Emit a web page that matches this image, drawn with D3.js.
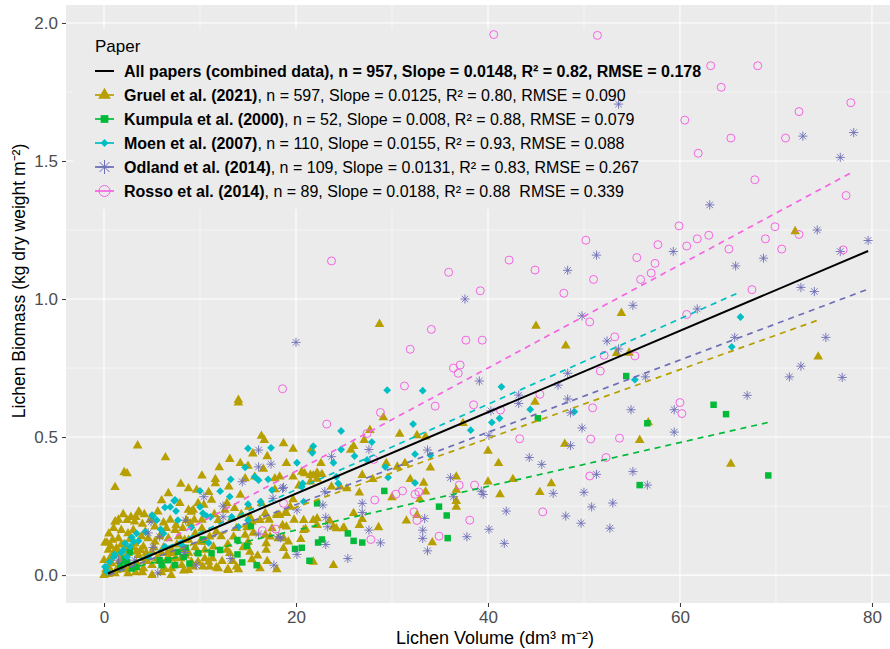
<!DOCTYPE html>
<html><head><meta charset="utf-8">
<script src="https://cdn.jsdelivr.net/npm/d3@7"></script>
<style>body{margin:0;background:#fff} text{font-family:"Liberation Sans",Arial,sans-serif}</style>
</head><body><svg id="c" width="890" height="649"></svg>
<script>
// ---------- data ----------
const gruel = [
[72.0,1.245],[53.9,0.949],[48.1,0.831],[53.4,0.804],[54.7,0.805],[74.4,0.791],[56.7,0.553],[55.8,0.489],[48.0,0.475],[65.3,0.403],
[28.7,0.909],[45.0,0.902],[29.1,0.571],[27.7,0.525],[27.1,0.489],[26.0,0.467],[25.7,0.453],[18.7,0.477],[19.7,0.457],[21.6,0.455],[19.0,0.405],[22.6,0.405],[30.8,0.511],[32.6,0.506],[33.5,0.501],[37.4,0.55],[44.9,0.627],[40.0,0.450],[41.1,0.405],[42.6,0.347],[46.6,0.332],[45.4,0.300],[41.25,0.292],[40.0,0.338],[36.7,0.356],[36.7,0.308],[36.7,0.268],[36.7,0.247],[34.0,0.389],[33.3,0.334],[33.5,0.302],[32.9,0.275],[32.6,0.217],[31.5,0.197],[34.2,0.118],[31.9,0.347],[31.35,0.405],[30.55,0.392],[30.0,0.281],[29.4,0.405],[28.0,0.347],[26.9,0.362],[26.6,0.298],[26.0,0.224],[26.9,0.202],[26.6,0.181],[28.6,0.173],[25.3,0.314],[24.6,0.320],[23.7,0.320],[22.7,0.365],[21.8,0.361],[20.9,0.368],[22.2,0.348],[20.3,0.324],[19.7,0.274],[19.0,0.224],[20.8,0.199],[22.2,0.205],[23.5,0.197],[24.2,0.169],[25.0,0.171],[20.8,0.163],[19.0,0.175],[18.7,0.133],[18.3,0.356],
[14.0,0.634],[14.0,0.624],[3.5,0.469],[6.4,0.426],[2.1,0.372],[2.4,0.368],[1.15,0.318],[16.4,0.504],[16.7,0.489],[11.6,0.347],[11.6,0.332],[8.8,0.314],[9.65,0.308],[6.7,0.296],[14.2,0.405],[15.0,0.395],[16.6,0.384],[15.7,0.356],[14.7,0.350],[17.8,0.350],[19.7,0.356],[21.5,0.362],[22.2,0.371],[21.5,0.338],[3.7,0.226],[1.15,0.193],[0.3,0.117],[9.1,0.229],[10.4,0.254],[11.2,0.272],[12.8,0.260],[13.6,0.242],[15.1,0.247],[14.2,0.290],[16.4,0.260],[16.8,0.224],[15.2,0.211],[16.25,0.199],[18.0,0.217],[21.8,0.199],[22.2,0.181],[23.9,0.175],[24.9,0.169],[17.3,0.139],[16.9,0.115],[14.7,0.145],[13.5,0.139],[12.8,0.091],[11.7,0.027],[12.9,0.021],[10.9,0.048],[8.3,0.016],[7.4,0.036],[6.5,0.054],[7.2,0.079],[15.4,0.057],[19.0,0.069],[21.8,0.048],[23.9,0.036],[21.0,0.167],
[20.6,0.374],[19.4,0.247],[18.9,0.226],[9.3,0.236],[12.6,0.236],[11.9,0.199],[13.3,0.205],[14.9,0.173],[15.55,0.153],[16.8,0.145],[17.5,0.169],[18.3,0.217],[15.4,0.193],[10.2,0.169],[9.5,0.151],[11.0,0.139],[11.7,0.157],[11.4,0.103],[12.9,0.112],[13.1,0.079],[16.9,0.091],[15.2,0.084],[18.7,0.097],[19.2,0.121],[18.15,0.133],[10.5,0.091],[9.8,0.048],[11.0,0.030],[12.95,0.018],[11.9,0.024],[16.25,0.024],[8.8,0.018],[8.8,0.127],[9.0,0.187],
[3.6,0.229],[1.2,0.193],[2.4,0.199],[3.2,0.193],[4.0,0.185],[8.6,0.199],[1.8,0.163],[2.5,0.151],[3.05,0.163],[4.3,0.157],[0.1,0.117],[0.9,0.127],[1.5,0.133],[2.1,0.112],[3.2,0.115],[4.1,0.103],[4.6,0.133],[5.3,0.121],[0.45,0.091],[1.3,0.097],[2.5,0.079],[3.6,0.072],[5.0,0.084],[6.0,0.079],[7.05,0.091],[8.1,0.091],[0.0,0.054],[0.8,0.042],[1.8,0.030],[3.4,0.042],[4.1,0.024],[5.0,0.036],[6.35,0.021],[7.05,0.024],[8.1,0.036],[9.1,0.048],[0.0,0.0],[0.45,0.003],[1.15,0.006],[2.5,0.006],[5.0,0.0],[6.7,0.133],[7.4,0.163],[8.4,0.127],[8.8,0.236],[5.3,0.175],[0.45,0.030],[1.3,0.018],[2.0,0.060],[4.3,0.060],
[0.2,0.02],[0.6,0.06],[1.0,0.08],[1.6,0.05],[2.2,0.02],[2.8,0.03],[3.0,0.10],[3.8,0.09],[4.5,0.05],[5.5,0.06],[6.2,0.10],[6.8,0.06],[7.6,0.11],[8.5,0.07],[9.5,0.10],[10.0,0.12],[3.3,0.01],[4.0,0.01],[6.0,0.01],[7.0,0.0],[0.8,0.01],[1.8,0.11],[2.7,0.13],[3.9,0.14],[5.8,0.14],[6.5,0.17],[7.8,0.14],[9.8,0.08],[10.5,0.06],[13.8,0.03],[14.5,0.10],[10.2,0.20],
[0.5,0.15],[1.0,0.17],[1.5,0.20],[2.0,0.22],[2.8,0.21],[3.3,0.21],[4.2,0.22],[4.8,0.20],[5.6,0.23],[6.2,0.19],[6.9,0.20],[7.5,0.18],[8.2,0.17],[9.4,0.20],[0.7,0.105],[1.4,0.075],[2.3,0.09],[3.4,0.085],[4.4,0.08],[5.2,0.10],[5.8,0.05],[6.6,0.08],[7.4,0.06],[8.0,0.06],[8.8,0.08],[9.3,0.03],[10.3,0.03],[11.3,0.06],[12.3,0.05],[13.4,0.05],[14.0,0.02],[15.0,0.12],[16.0,0.07],[17.0,0.05],[18.0,0.02],[10.6,0.12],[11.5,0.22],[12.2,0.14],[13.8,0.17],[14.3,0.22],[17.2,0.20],[18.6,0.18],[19.8,0.20],[20.5,0.13],[17.8,0.31],[13.0,0.32],[10.9,0.30],[9.8,0.26],[7.9,0.26],[6.0,0.27],[12.0,0.39],[13.1,0.42],[15.5,0.44],[17.0,0.43],[8.0,0.33],[10.2,0.36]
];
const kumpula = [
[54.4,0.721],[63.5,0.617],[64.8,0.583],[56.6,0.550],[55.8,0.326],[69.2,0.361],
[29.2,0.305],[34.9,0.248],[35.7,0.216],[35.8,0.134],[22.2,0.26],[25.4,0.151],[26.0,0.124],[26.9,0.118],[22.7,0.129],[22.3,0.118],[20.6,0.099],[19.9,0.095],[21.4,0.052],[45.2,0.568],
[15.3,0.178],[13.9,0.127],[14.9,0.106],[13.9,0.075],[14.4,0.046],[15.9,0.036],[12.1,0.091],[11.2,0.079],[9.8,0.079],[8.9,0.042],[10.3,0.129],[8.5,0.099],[7.7,0.084],[5.8,0.054],[6.0,0.036],[3.4,0.03],[2.4,0.048],[2.7,0.084],
[6.7,0.054],[8.3,0.066],[2.2,0.057],[1.7,0.036],[2.9,0.024],[7.4,0.036]
];
const moen = [
[66.3,0.935],[65.4,0.827],[55.3,0.708],[49.0,0.592],
[29.5,0.670],[33.2,0.668],[41.4,0.682],[24.7,0.522],[32.2,0.547],[38.2,0.525],[40.4,0.553],[41.2,0.568],[44.4,0.600],[21.8,0.467],[21.7,0.443],[24.7,0.455],[27.9,0.482],[23.9,0.407],[20.1,0.407],[26.1,0.431],[27.4,0.417],[32.4,0.438],[34.0,0.434],[29.3,0.392],[29.6,0.354],[24.2,0.356],[24.4,0.332],[32.4,0.334],[20.8,0.266],[20.7,0.332],
[15.0,0.459],[17.4,0.461],[14.7,0.390],[13.2,0.347],[15.7,0.356],[16.1,0.344],[17.1,0.347],[12.1,0.304],[10.0,0.305],[13.1,0.284],[15.0,0.257],[16.3,0.266],[20.6,0.320],[17.5,0.308],[10.3,0.224],[10.7,0.214],[11.1,0.211],[10.0,0.247],[13.3,0.211],[14.0,0.175],[15.0,0.199],[9.1,0.173],[10.9,0.117],
[7.4,0.272],[6.9,0.247],[6.35,0.245],[5.5,0.199],[5.0,0.217],[6.2,0.151],[3.4,0.151],[3.05,0.121],[4.3,0.157],[1.0,0.066],[0.6,0.048],[0.1,0.03],[0.3,0.012],[2.4,0.066],[2.0,0.091],[2.7,0.103],
[7.3,0.269],[7.5,0.232],[5.1,0.214],[5.9,0.166],[2.9,0.137],[3.6,0.124],[2.2,0.115],[1.8,0.081],[1.1,0.075],[0.2,0.03],[0.4,0.012],[4.6,0.066],[6.35,0.103],[7.7,0.199],[8.1,0.109]
];
const odland = [
[53.6,1.706],[72.8,1.590],[78.1,1.603],[76.7,1.513],[63.1,1.341],[74.3,1.250],[51.3,1.159],[48.3,1.104],[59.3,1.172],[65.8,1.120],[68.7,1.148],[76.7,1.172],[79.6,1.212],[72.6,1.042],[74.0,1.027],[55.1,0.977],[49.8,0.939],[61.8,0.964],[52.4,0.848],[53.6,0.819],[48.3,0.731],[56.4,0.718],[65.7,0.861],[75.2,0.861],[72.6,0.757],[71.4,0.718],[76.9,0.716],[48.3,0.638],[48.6,0.588],[67.0,0.651],[54.9,0.599],[59.4,0.599],[49.8,0.533],[59.4,0.518],[48.6,0.469],[51.3,0.365],[55.1,0.375],[56.6,0.326],[50.0,0.300],[50.8,0.247],[53.0,0.261],[48.1,0.214],[49.7,0.188],[52.7,0.170],
[20.0,0.843],[37.6,1.0],[39.1,0.703],[43.2,0.652],[43.2,0.622],[40.3,0.595],[47.3,0.688],[40.1,0.506],[33.7,0.453],[23.7,0.429],[27.6,0.455],[44.3,0.426],[45.6,0.401],[46.8,0.296],[39.3,0.304],[39.5,0.292],[36.1,0.353],[36.4,0.284],[41.9,0.232],[40.1,0.166],[37.8,0.139],[33.4,0.205],[33.2,0.163],[33.2,0.133],[33.7,0.088],[28.8,0.117],[27.6,0.163],[26.9,0.26],[26.9,0.227],[22.8,0.254],[25.4,0.06],[20.1,0.075],[23.1,0.111],[23.3,0.175],[18.7,0.318],[18.4,0.135],[41.7,0.115],
[16.1,0.453],[16.1,0.392],[17.4,0.402],[14.4,0.338],[18.6,0.314],[10.4,0.284],[8.5,0.199],[4.9,0.193],[12.4,0.211],[12.4,0.25],[20.1,0.236],[23.0,0.302],[23.1,0.209],[17.7,0.036],[13.2,0.06],[9.6,0.036],[5.6,0.008],[3.2,0.054],[4.6,0.153],[5.8,0.139],[8.4,0.082],[1.5,0.054],[16.1,0.149],[18.2,0.139],[17.6,0.278],[5.1,0.1]
];
const rosso = [
[40.6,1.958],[51.4,1.955],[63.2,1.845],[68.1,1.845],[64.3,1.767],[77.8,1.711],[72.4,1.679],[60.5,1.648],[65.3,1.583],[71.0,1.583],[61.9,1.528],[67.8,1.432],[77.3,1.375],[59.9,1.265],[50.2,1.213],[63.0,1.231],[61.8,1.218],[60.7,1.192],[57.7,1.197],[55.5,1.150],[57.4,1.129],[57.0,1.094],[69.9,1.262],[68.9,1.218],[65.1,1.181],[70.6,1.181],[72.4,1.234],[77.0,1.178],[51.0,1.071],[55.9,1.071],[47.9,1.021],[67.5,1.034],[50.6,0.917],[60.7,0.944],[53.2,0.863],[52.1,0.796],[55.3,0.794],[51.7,0.739],[50.9,0.606],[60.0,0.625],[60.2,0.585],[50.7,0.493],[53.7,0.496],[52.3,0.426],[50.6,0.359],
[23.7,1.138],[35.9,1.097],[42.2,1.141],[44.9,1.105],[39.2,1.030],[34.1,0.890],[31.9,0.818],[37.7,0.851],[39.4,0.851],[36.4,0.75],[37.1,0.761],[36.9,0.731],[18.6,0.675],[31.3,0.685],[34.5,0.612],[38.5,0.617],[28.8,0.589],[41.3,0.598],[23.2,0.547],[43.3,0.494],[45.4,0.655],[28.1,0.419],[27.4,0.513],[37.0,0.326],[38.6,0.326],[30.4,0.293],[31.1,0.305],[32.4,0.293],[32.8,0.301],[28.2,0.272],[18.7,0.26],[32.3,0.229],[32.6,0.198],[38.1,0.199],[45.7,0.229],[34.9,0.141],[27.8,0.129],[17.9,0.167],[16.5,0.161]
];
// fitted lines (read end points): all, gruel, kumpula, moen, odland, rosso
const fitNames = ["all","gruel","kumpula","moen","odland","rosso"];
const fitX0 = [0.4, 0.3, 1.5, 0.4, 0.5, 6.5];
const fitY0 = [0.006, 0.0, 0.016, 0.006, 0.0, 0.124];
const fitX1 = [79.6, 74.5, 69.3, 66.3, 79.6, 77.8];
const fitY1 = [1.174, 0.925, 0.554, 1.026, 1.036, 1.457];
const xTicks = [0, 20, 40, 60, 80];
const yTicks = [0, 0.5, 1.0, 1.5, 2.0];
const xMinor = [10, 30, 50, 70];
const yMinor = [0.25, 0.75, 1.25, 1.75];
const legendBold = ["All papers (combined data), n = 957, Slope = 0.0148, R\u00b2 = 0.82, RMSE = 0.178",
  "Gruel et al. (2021)","Kumpula et al. (2000)","Moen et al. (2007)","Odland et al. (2014)","Rosso et al. (2014)"];
const legendRest = ["",
  ", n = 597, Slope = 0.0125, R\u00b2 = 0.80, RMSE = 0.090",
  ", n = 52, Slope = 0.008, R\u00b2 = 0.88, RMSE = 0.079",
  ", n = 110, Slope = 0.0155, R\u00b2 = 0.93, RMSE = 0.088",
  ", n = 109, Slope = 0.0131, R\u00b2 = 0.83, RMSE = 0.267",
  ", n = 89, Slope = 0.0188, R\u00b2 = 0.88\u00a0 RMSE = 0.339"];

// ---------- styles ----------
const col = {all:"#000000", gruel:"#B79F00", kumpula:"#00BA38", moen:"#00BFC4", odland:"#6E6EB8", rosso:"#F564E3"};
const L = 66, R = 890, T = 5, B = 603;
const svg = d3.select("#c");
const x = d3.scaleLinear().domain([-3.96, 81.88]).range([L, R]);
const y = d3.scaleLinear().domain([-0.101, 2.065]).range([B, T]);

svg.append("rect").attr("x",L).attr("y",T).attr("width",R-L).attr("height",B-T).attr("fill","#EBEBEB");
const g = svg.append("g");
g.selectAll(".xm").data(xMinor).join("line").attr("x1",d=>x(d)).attr("x2",d=>x(d)).attr("y1",T).attr("y2",B).attr("stroke","#fff").attr("stroke-width",0.55);
g.selectAll(".ym").data(yMinor).join("line").attr("y1",d=>y(d)).attr("y2",d=>y(d)).attr("x1",L).attr("x2",R).attr("stroke","#fff").attr("stroke-width",0.55);
g.selectAll(".xM").data(xTicks).join("line").attr("x1",d=>x(d)).attr("x2",d=>x(d)).attr("y1",T).attr("y2",B).attr("stroke","#fff").attr("stroke-width",1.1);
g.selectAll(".yM").data(yTicks).join("line").attr("y1",d=>y(d)).attr("y2",d=>y(d)).attr("x1",L).attr("x2",R).attr("stroke","#fff").attr("stroke-width",1.1);

// legend background (hides grid, drawn under points)
svg.append("rect").attr("x",73).attr("y",29).attr("width",565).attr("height",180).attr("fill","#EBEBEB");

// axes
const xAxis = d3.axisBottom(x).tickValues(xTicks).tickSize(4).tickPadding(4).tickFormat(d3.format("d"));
const yAxis = d3.axisLeft(y).tickValues(yTicks).tickSize(4).tickPadding(4).tickFormat(d3.format(".1f"));
const gx = svg.append("g").attr("transform",`translate(0,${B})`).call(xAxis);
const gy = svg.append("g").attr("transform",`translate(${L},0)`).call(yAxis);
[gx,gy].forEach(a=>{a.select(".domain").remove(); a.selectAll("line").attr("stroke","#333").attr("stroke-width",1);
  a.selectAll("text").attr("fill","#4D4D4D").style("font-size","17px").style("font-family","'Liberation Sans',Arial,sans-serif");});
gx.selectAll("text").attr("dy","0.72em");

// symbols
const triPath = d3.symbol().type(d3.symbolTriangle).size(40)();
const sqPath = d3.symbol().type(d3.symbolSquare).size(42)();
const diaPath = "M0,-3.9L3.9,0L0,3.9L-3.9,0Z";
const astPath = (()=>{const r=4.6, s=r*Math.SQRT1_2; return `M${-r},0L${r},0M0,${-r}L0,${r}M${-s},${-s}L${s},${s}M${-s},${s}L${s},${-s}`;})();

const pts = svg.append("g");
pts.selectAll(".g").data(gruel).join("path").attr("d",triPath).attr("transform",d=>`translate(${x(d[0])},${y(d[1])})`).attr("fill",col.gruel);
pts.selectAll(".k").data(kumpula).join("path").attr("d",sqPath).attr("transform",d=>`translate(${x(d[0])},${y(d[1])})`).attr("fill",col.kumpula);
pts.selectAll(".m").data(moen).join("path").attr("d",diaPath).attr("transform",d=>`translate(${x(d[0])},${y(d[1])})`).attr("fill",col.moen);
pts.selectAll(".o").data(odland).join("path").attr("d",astPath).attr("transform",d=>`translate(${x(d[0])},${y(d[1])})`).attr("stroke",col.odland).attr("stroke-width",0.9).attr("fill","none");
pts.selectAll(".r").data(rosso).join("circle").attr("cx",d=>x(d[0])).attr("cy",d=>y(d[1])).attr("r",4).attr("stroke",col.rosso).attr("stroke-width",1).attr("fill","none");

// fit lines
const lines = svg.append("g");
const order = [1,2,3,4,5,0];
order.forEach(i=>{
  lines.append("line").attr("x1",x(fitX0[i])).attr("y1",y(fitY0[i])).attr("x2",x(fitX1[i])).attr("y2",y(fitY1[i]))
   .attr("stroke",col[fitNames[i]]).attr("stroke-width",i===0?2:1.7)
   .attr("stroke-dasharray",i===0?null:"6,5");
});

// legend
const lg = svg.append("g");
lg.append("text").attr("x",95).attr("y",51.5).text("Paper").style("font-size","17px").attr("fill","#000");
const rowY = [71,95,119,143,167,191];
fitNames.forEach((n,i)=>{
  const cy = rowY[i];
  lg.append("line").attr("x1",95).attr("x2",114).attr("y1",cy).attr("y2",cy).attr("stroke",col[n]).attr("stroke-width",i===0?2:1.7);
  if(i===5){lg.append("circle").attr("cx",104.5).attr("cy",cy).attr("r",5.5).attr("fill","none").attr("stroke",col[n]).attr("stroke-width",1);}
  else if(i===4){lg.append("path").attr("d",(()=>{const r=7,s=r*Math.SQRT1_2;return `M${-r},0L${r},0M0,${-r}L0,${r}M${-s},${-s}L${s},${s}M${-s},${s}L${s},${-s}`;})()).attr("transform",`translate(104.5,${cy})`).attr("stroke",col[n]).attr("stroke-width",1).attr("fill","none");}
  else if(i===1){lg.append("path").attr("d",d3.symbol().type(d3.symbolTriangle).size(70)()).attr("transform",`translate(104.5,${cy})`).attr("fill",col[n]);}
  else if(i===2){lg.append("path").attr("d",d3.symbol().type(d3.symbolSquare).size(60)()).attr("transform",`translate(104.5,${cy})`).attr("fill",col[n]);}
  else if(i===3){lg.append("path").attr("d","M0,-4L4,0L0,4L-4,0Z").attr("transform",`translate(104.5,${cy})`).attr("fill",col[n]);}
  const t = lg.append("text").attr("x",124).attr("y",cy+5.6).style("font-size","16px").attr("fill","#000");
  t.append("tspan").attr("font-weight","bold").text(legendBold[i]);
  if(legendRest[i]) t.append("tspan").text(legendRest[i]);
});

// axis titles
svg.append("text").attr("x",495).attr("y",644).attr("text-anchor","middle").style("font-size","18px").attr("fill","#000")
  .text("Lichen Volume (dm\u00b3 m\u207b\u00b2)");
svg.append("text").attr("transform","translate(25,281) rotate(-90)").attr("text-anchor","middle").style("font-size","17.5px").attr("fill","#000")
  .text("Lichen Biomass (kg dry weight m\u207b\u00b2)");
</script></body></html>
